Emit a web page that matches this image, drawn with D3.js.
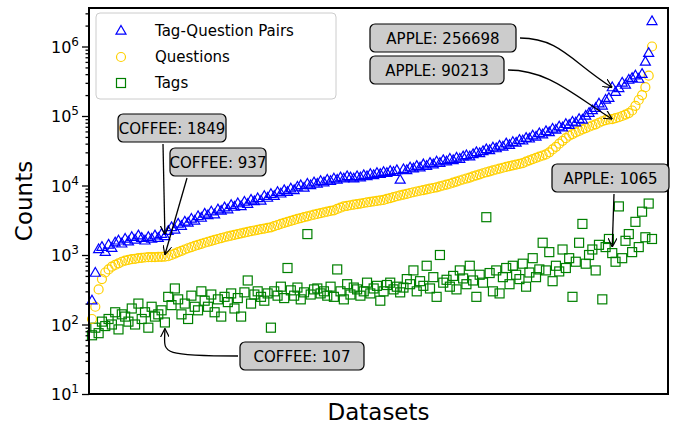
<!DOCTYPE html>
<html><head><meta charset="utf-8">
<script src="https://cdn.jsdelivr.net/npm/d3@7"></script>
<style>body{margin:0;background:#fff}svg{font-family:"DejaVu Sans",sans-serif}</style>
</head><body><svg id="c" width="673" height="426"></svg>
<script>
const questions=[120,180,320,450,560,620,680,720,760,800,
830,850,870,880,900,910,920,930,930,935,
937,940,945,960,1000,1050,1100,1150,1200,1250,
1300,1350,1400,1450,1500,1550,1600,1650,1700,1750,
1800,1850,1900,1950,2000,2050,2100,2150,2200,2250,
2300,2350,2400,2450,2500,2600,2700,2800,2900,3000,
3100,3200,3300,3400,3500,3600,3700,3800,3900,4000,
4100,4200,4300,4400,4600,4800,5000,5100,5200,5300,
5400,5500,5600,5700,5800,5900,6000,6100,6200,6400,
6600,6800,7000,7200,7400,7600,7800,8000,8200,8400,
8600,8800,9000,9200,9400,9700,10000,10300,10600,11000,
11400,11800,12200,12600,13000,13500,14000,14500,15000,15500,
16000,16500,17000,17500,18000,18500,19000,19500,20000,20500,
21000,22000,23000,24000,25000,26000,27000,28000,30000,33000,
36000,40000,44000,48000,52000,55000,58000,61000,64000,67000,
70000,73000,76000,80000,84000,87000,89000,90213,93000,96000,
100000,105000,110000,120000,140000,170000,200000,260000,380000,1000000];
const pairs=[220,550,1200,1300,1100,1400,1250,1500,1600,1450,
1700,1550,1800,1650,1900,1750,1600,1800,1700,1900,
1750,2000,1849,2200,2500,2300,2800,2600,3000,2900,
3300,3100,3600,3400,3900,3700,4200,3800,4500,4300,
4800,4500,5200,4900,5500,5000,5800,5400,6200,5900,
6500,6000,7000,6600,7500,7000,8000,7600,8500,8000,
9000,8500,9500,10000,9200,10500,10000,11000,10500,11500,
11000,12000,11500,12500,12000,13000,12500,13500,13000,12500,
13500,13000,14000,13500,14500,14000,15000,14500,15500,15000,
16000,15500,16500,12000,17000,16500,18000,17500,19000,18000,
20000,19000,21000,20000,22000,21000,23000,22000,24000,23000,
25000,24000,26000,27000,26000,28000,30000,29000,31000,33000,
32000,35000,34000,37000,36000,40000,38000,42000,41000,45000,
44000,48000,47000,52000,50000,56000,54000,60000,58000,65000,
63000,70000,68000,76000,74000,82000,80000,90000,88000,100000,
110000,120000,130000,150000,140000,170000,180000,256698,220000,250000,
300000,280000,330000,350000,380000,340000,400000,600000,800000,2300000];
const tags=[70,90,75,110,95,120,100,150,85,140,
130,110,170,100,200,120,150,90,180,130,
140,160,107,250,190,330,230,140,200,120,
260,180,160,300,220,180,270,150,230,130,
250,210,280,170,240,130,290,430,200,270,
300,250,220,280,90,300,260,350,240,650,
310,260,340,230,290,2000,270,320,330,280,
300,260,350,250,620,300,230,380,270,340,
320,260,300,400,280,330,360,220,300,370,
400,320,350,290,340,450,380,600,300,420,
360,700,330,480,250,1000,400,440,350,500,
320,600,460,380,700,430,250,520,400,3500,
550,300,600,280,480,650,380,700,520,450,
750,350,560,900,480,620,1500,600,1100,420,
700,580,1200,650,900,250,800,1500,2800,750,
1000,1200,600,1400,230,1300,1700,1065,800,5000,
900,1600,2000,1100,3000,1300,4200,1800,5500,1700];
const yTicks=[10,100,1000,10000,100000,1000000];
const seriesNames=["Tag-Question Pairs","Questions","Tags"];
const annotations=[
 {text:"COFFEE: 1849",series:"pairs",i:22,bx:118,by:114,w:108,ax:163,curve:false},
 {text:"COFFEE: 937",series:"questions",i:22,bx:170,by:148,w:96,ax:187,curve:false},
 {text:"COFFEE: 107",series:"tags",i:22,bx:240,by:342,w:124,curve:"left"},
 {text:"APPLE: 256698",series:"pairs",i:157,bx:370,by:24,w:146,curve:"right"},
 {text:"APPLE: 90213",series:"questions",i:157,bx:370,by:56,w:134,curve:"right"},
 {text:"APPLE: 1065",series:"tags",i:157,bx:552,by:164,w:117,ax:614,curve:false}
];
const data={pairs,questions,tags};
const svg=d3.select("#c");
const L=89,R=668,T=8,B=394;
const x=d3.scaleLinear().domain([0,questions.length-1]).range([92,652]);
const y=d3.scaleLog().domain([10,10**(1+386/69.5)]).range([B,T]);
svg.append("defs").append("marker").attr("id","ah").attr("viewBox","0 0 10 10").attr("refX",10).attr("refY",5)
 .attr("markerWidth",9).attr("markerHeight",9).attr("orient","auto-start-reverse").attr("markerUnits","userSpaceOnUse")
 .append("path").attr("d","M0,0L10,5L0,10").attr("fill","none").attr("stroke","#000").attr("stroke-width",1.3);
const g=svg.append("g");
const tri="M0,-5.5L5,3.2L-5,3.2Z";
g.selectAll(".t").data(tags).join("rect").attr("x",(d,i)=>x(i)-4.5).attr("y",d=>y(d)-4.5).attr("width",9).attr("height",9)
 .attr("fill","none").attr("stroke","#008000").attr("stroke-width",1.2);
g.selectAll(".q").data(questions).join("circle").attr("cx",(d,i)=>x(i)).attr("cy",d=>y(d)).attr("r",4.5)
 .attr("fill","none").attr("stroke","#ffd000").attr("stroke-width",1.2);
g.selectAll(".p").data(pairs).join("path").attr("transform",(d,i)=>`translate(${x(i)},${y(d)})`).attr("d",tri)
 .attr("fill","none").attr("stroke","#0000ff").attr("stroke-width",1.2);
svg.append("rect").attr("x",L).attr("y",T).attr("width",R-L).attr("height",B-T).attr("fill","none").attr("stroke","#000").attr("stroke-width",2);
const ax=svg.append("g").attr("transform",`translate(${L},0)`).call(d3.axisLeft(y).tickValues(yTicks).tickFormat("").tickSize(7));
ax.select(".domain").remove();
const minors=[];for(let e=1;e<7;e++)for(let k=2;k<10;k++){const v=k*10**e;if(v<y.domain()[1])minors.push(v);}
svg.append("g").attr("transform",`translate(${L},0)`).call(d3.axisLeft(y).tickValues(minors).tickFormat("").tickSize(3.5)).select(".domain").remove();
svg.selectAll(".tick line").attr("stroke-width",1.3);
yTicks.forEach(v=>{const t=svg.append("text").attr("x",L-10).attr("y",y(v)+6).attr("text-anchor","end").attr("font-size",16);
 t.append("tspan").text("10");t.append("tspan").attr("dy",-7).attr("font-size",12).text(Math.log10(v));});
svg.append("text").attr("transform",`translate(32,${(T+B)/2}) rotate(-90)`).attr("text-anchor","middle").attr("font-size",23).text("Counts");
svg.append("text").attr("x",(L+R)/2).attr("y",420).attr("text-anchor","middle").attr("font-size",23).text("Datasets");
const lg=svg.append("g");
lg.append("rect").attr("x",96).attr("y",13).attr("width",240).attr("height",86).attr("rx",4).attr("fill","#fff").attr("stroke","#ccc");
seriesNames.forEach((n,k)=>{const yy=31+k*26,xx=121;
 if(k==0)lg.append("path").attr("transform",`translate(${xx},${yy})`).attr("d",tri).attr("fill","none").attr("stroke","#0000ff").attr("stroke-width",1.2);
 if(k==1)lg.append("circle").attr("cx",xx).attr("cy",yy).attr("r",4.5).attr("fill","none").attr("stroke","#ffd000").attr("stroke-width",1.2);
 if(k==2)lg.append("rect").attr("x",xx-4.5).attr("y",yy-4.5).attr("width",9).attr("height",9).attr("fill","none").attr("stroke","#008000").attr("stroke-width",1.2);
 lg.append("text").attr("x",155).attr("y",yy+5).attr("font-size",15).text(n);});
annotations.forEach(a=>{
 const px=x(a.i),py=y(data[a.series][a.i]);
 let d;
 if(a.curve===false){d=`M${a.ax},${a.by+30}L${px},${py+(a.series==="tags"?-6:(a.by<py?-2:2))}`;}
 else if(a.curve==="left"){const sx=a.bx-2,sy=a.by+14;d=`M${sx},${sy}C${px-10},${sy} ${px},${py+30} ${px},${py+6}`;}
 else {const sx=a.bx+a.w+4,sy=a.by+14;d=`M${sx},${sy}C${sx+40},${sy} ${px-40},${py-25} ${px},${py}`;}
 svg.append("path").attr("d",d).attr("fill","none").attr("stroke","#000").attr("stroke-width",1.3).attr("marker-end","url(#ah)");
 svg.append("rect").attr("x",a.bx).attr("y",a.by).attr("width",a.w).attr("height",28).attr("rx",5).attr("fill","#ccc").attr("stroke","#000").attr("stroke-width",1.2);
 svg.append("text").attr("x",a.bx+a.w/2).attr("y",a.by+20).attr("text-anchor","middle").attr("font-size",15).text(a.text);
});
</script></body></html>
